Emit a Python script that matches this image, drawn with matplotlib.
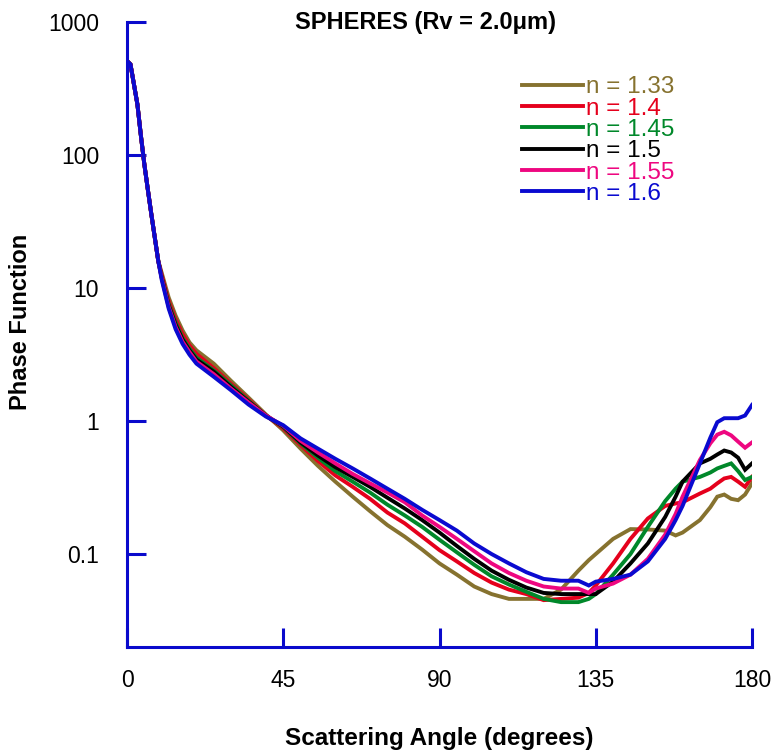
import matplotlib
matplotlib.use("Agg")
import matplotlib.pyplot as plt

plt.rcParams['font.family'] = ['Liberation Sans', 'DejaVu Sans']

angles = [0, 1, 2, 3, 4, 5, 6, 7, 8, 9, 10, 12, 14, 16, 18, 20, 25, 30, 35, 40,
          45, 50, 55, 60, 65, 70, 75, 80, 85, 90, 95, 100, 105, 110, 115, 120,
          125, 130, 133, 135, 140, 145, 150, 155, 158, 160, 165, 168, 170, 172,
          174, 176, 178, 180]

forward = [510, 480, 340, 240, 140, 85, 55, 36, 24, 16]

n133 = forward + [13, 8.5, 6.2, 4.8, 3.9, 3.4, 2.7, 2.0, 1.5, 1.12,
                  0.85, 0.62, 0.46, 0.35, 0.27, 0.21, 0.165, 0.135, 0.108, 0.085,
                  0.07, 0.057, 0.05, 0.046, 0.046, 0.046, 0.054, 0.075, 0.09, 0.1,
                  0.13, 0.154, 0.153, 0.15, 0.138, 0.145, 0.18, 0.225, 0.27, 0.28,
                  0.26, 0.254, 0.28, 0.34]
n140 = forward + [12.5, 8.0, 5.8, 4.5, 3.7, 3.2, 2.5, 1.9, 1.45, 1.1,
                  0.88, 0.66, 0.5, 0.39, 0.32, 0.26, 0.205, 0.17, 0.135, 0.107,
                  0.088, 0.072, 0.061, 0.054, 0.05, 0.045, 0.046, 0.047, 0.051, 0.058,
                  0.085, 0.13, 0.185, 0.23, 0.24, 0.245, 0.285, 0.31, 0.34, 0.37,
                  0.38, 0.35, 0.32, 0.38]
n145 = forward + [12, 7.6, 5.5, 4.2, 3.5, 3.0, 2.4, 1.85, 1.42, 1.1,
                  0.9, 0.68, 0.53, 0.42, 0.35, 0.29, 0.235, 0.195, 0.16, 0.128,
                  0.103, 0.083, 0.068, 0.059, 0.052, 0.046, 0.0435, 0.0435, 0.046, 0.05,
                  0.07, 0.1, 0.16, 0.25, 0.31, 0.35, 0.38, 0.41, 0.44, 0.46,
                  0.48, 0.42, 0.36, 0.38]
n150 = forward + [12, 7.4, 5.3, 4.1, 3.4, 2.9, 2.35, 1.8, 1.4, 1.1,
                  0.91, 0.69, 0.55, 0.45, 0.38, 0.32, 0.265, 0.22, 0.18, 0.145,
                  0.115, 0.092, 0.075, 0.064, 0.056, 0.051, 0.05, 0.05, 0.05, 0.05,
                  0.062, 0.085, 0.12, 0.19, 0.27, 0.35, 0.48, 0.52, 0.56, 0.6,
                  0.58, 0.53, 0.43, 0.48]
n155 = forward + [11.8, 7.2, 5.1, 3.95, 3.3, 2.8, 2.25, 1.75, 1.38, 1.1,
                  0.92, 0.71, 0.58, 0.48, 0.40, 0.34, 0.29, 0.245, 0.195, 0.16,
                  0.13, 0.105, 0.085, 0.072, 0.063, 0.057, 0.055, 0.055, 0.051, 0.055,
                  0.06, 0.07, 0.092, 0.14, 0.2, 0.27, 0.51, 0.68, 0.79, 0.83,
                  0.78, 0.7, 0.63, 0.69]
n160 = forward + [11.5, 7.0, 4.9, 3.8, 3.15, 2.7, 2.15, 1.7, 1.33, 1.08,
                  0.93, 0.74, 0.62, 0.52, 0.44, 0.37, 0.31, 0.26, 0.215, 0.18,
                  0.15, 0.12, 0.1, 0.085, 0.073, 0.065, 0.063, 0.063, 0.058, 0.062,
                  0.065, 0.07, 0.088, 0.13, 0.18, 0.23, 0.48, 0.75, 0.98, 1.05,
                  1.05, 1.05, 1.1, 1.32]

labels = ["n = 1.33", "n = 1.4", "n = 1.45", "n = 1.5", "n = 1.55", "n = 1.6"]
series = [n133, n140, n145, n150, n155, n160]
colors = ["#86722F", "#E5001C", "#00882A", "#000000", "#EE0780", "#0A0AD0"]

xticks = [0, 45, 90, 135, 180]
yticks = [0.1, 1, 10, 100, 1000]
ytick_labels = ["0.1", "1", "10", "100", "1000"]

axis_color = "#0A0ACC"

fig = plt.figure(figsize=(7.71, 7.52), dpi=100)
ax = fig.add_axes([127 / 771, 1 - 647 / 752, 625 / 771, 625 / 752])

for vals, lab, col in zip(series, labels, colors):
    ax.plot(angles, vals, color=col, lw=2.8, label=lab, solid_joinstyle='miter')

ax.set_yscale('log')
ax.set_xlim(0, 180)
ax.set_ylim(0.02, 1000)
ax.set_xticks(xticks)
ax.set_xticklabels([str(t) for t in xticks])
ax.set_yticks(yticks)
ax.set_yticklabels(ytick_labels)
ax.minorticks_off()

for s in ['top', 'right']:
    ax.spines[s].set_visible(False)
for s in ['left', 'bottom']:
    ax.spines[s].set_color(axis_color)
    ax.spines[s].set_linewidth(2.2)

ax.tick_params(axis='both', direction='in', length=14, width=2.2,
               color=axis_color, labelsize=16.5, labelcolor='black')
ax.tick_params(axis='y', pad=20)
ax.tick_params(axis='x', pad=16)

ax.set_xlabel("Scattering Angle (degrees)", fontsize=17.5, fontweight='bold')
ax.xaxis.set_label_coords(0.5, -0.128)
ax.set_ylabel("Phase Function", fontsize=17, fontweight='bold')
ax.yaxis.set_label_coords(-0.152, 0.52)

ax.text(0.477, 1.0, "SPHERES (Rv = 2.0\u03bcm)", transform=ax.transAxes,
        ha='center', va='center', fontsize=17, fontweight='bold')

leg = ax.legend(loc='upper left', bbox_to_anchor=(0.632, 0.913), frameon=False,
                fontsize=17.5, handlelength=2.5, handletextpad=0.15,
                labelspacing=-0.03, borderpad=0, borderaxespad=0,
                labelcolor='linecolor')
for h in leg.get_lines():
    h.set_linewidth(2.8)

fig.savefig("out.png", dpi=100)
